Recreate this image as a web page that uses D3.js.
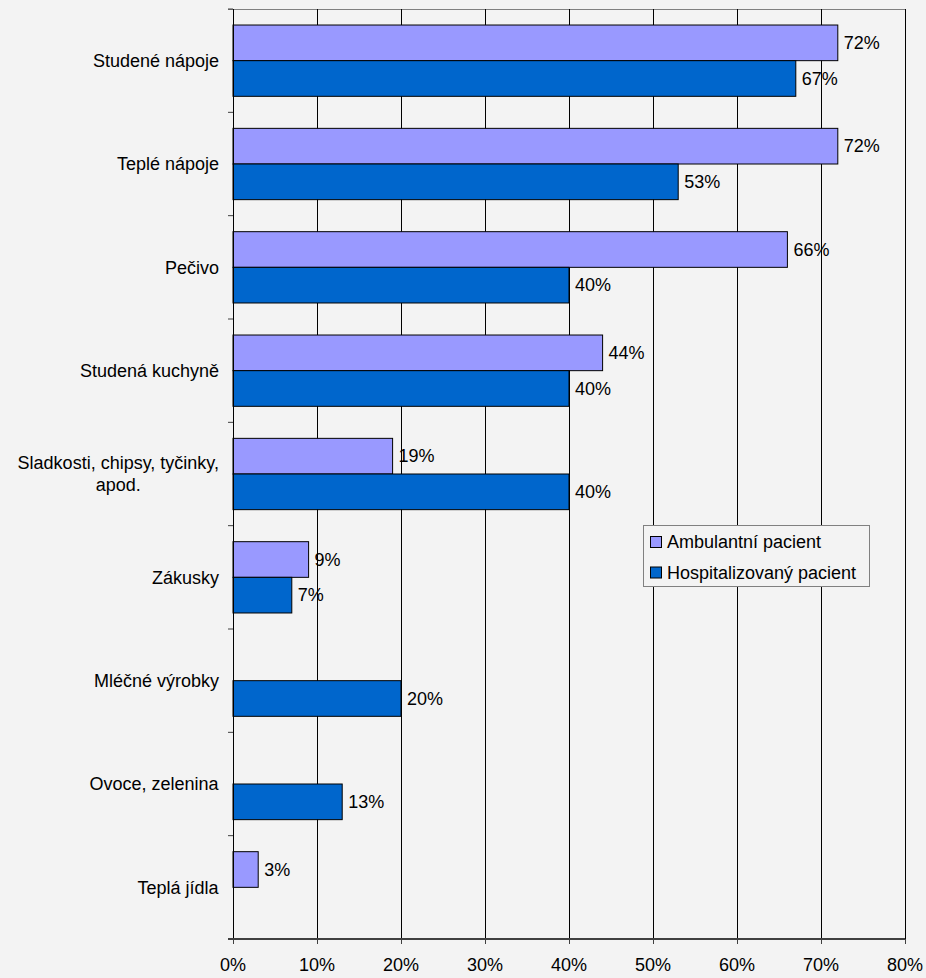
<!DOCTYPE html>
<html>
<head>
<meta charset="utf-8">
<script src="https://cdn.jsdelivr.net/npm/d3@7"></script>
<style>
  html, body { margin: 0; padding: 0; background: #f3f3f3; }
  svg { display: block; font-family: Arial, "Liberation Sans", sans-serif; }
</style>
</head>
<body>
<svg id="chart" width="926" height="978"></svg>
<script>
// Food categories, top to bottom
const categories = [
  ["Studené nápoje"],
  ["Teplé nápoje"],
  ["Pečivo"],
  ["Studená kuchyně"],
  ["Sladkosti, chipsy, tyčinky,", "apod."],
  ["Zákusky"],
  ["Mléčné výrobky"],
  ["Ovoce, zelenina"],
  ["Teplá jídla"]
];
// Share of respondents (%), null = no bar
const ambulantni = [72, 72, 66, 44, 19, 9, null, null, 3];
const hospitalizovany = [67, 53, 40, 40, 40, 7, 20, 13, null];
const seriesNames = ["Ambulantní pacient", "Hospitalizovaný pacient"];
const seriesColors = ["#9999ff", "#0066cc"];
const xTicks = [0, 10, 20, 30, 40, 50, 60, 70, 80];

const svg = d3.select("#chart");
const plotLeft = 233, plotRight = 905, plotTop = 9, plotBottom = 939;

const x = d3.scaleLinear().domain([0, 80]).range([plotLeft, plotRight]);
const y = d3.scaleBand().domain(d3.range(categories.length)).range([plotTop, plotBottom])
  .paddingInner(0.31).paddingOuter(0.155);
const inner = d3.scaleBand().domain([0, 1]).range([0, y.bandwidth()]);
const step = y.step();

// plot frame (top and right edges)
svg.append("line").attr("x1", plotLeft - 5).attr("x2", plotRight).attr("y1", plotTop + 0.5).attr("y2", plotTop + 0.5)
  .attr("stroke", "#808080").attr("stroke-width", 1);
svg.append("line").attr("x1", plotRight + 0.5).attr("x2", plotRight + 0.5).attr("y1", plotTop).attr("y2", plotBottom)
  .attr("stroke", "#808080").attr("stroke-width", 1);

// vertical gridlines
svg.append("g").selectAll("line").data(xTicks.slice(1)).join("line")
  .attr("x1", d => Math.round(x(d)) + 0.5).attr("x2", d => Math.round(x(d)) + 0.5)
  .attr("y1", plotTop).attr("y2", plotBottom)
  .attr("stroke", "#000").attr("stroke-width", 1);

// bars and value labels
const series = [ambulantni, hospitalizovany];
series.forEach((vals, si) => {
  const g = svg.append("g");
  const data = vals.map((v, i) => ({ v, i })).filter(d => d.v != null);
  g.selectAll("rect").data(data).join("rect")
    .attr("x", x(0))
    .attr("y", d => y(d.i) + inner(si))
    .attr("width", d => x(d.v) - x(0))
    .attr("height", inner.bandwidth())
    .attr("fill", seriesColors[si])
    .attr("stroke", "#000").attr("stroke-width", 1);
  g.selectAll("text").data(data).join("text")
    .attr("x", d => x(d.v) + 6)
    .attr("y", d => y(d.i) + inner(si) + inner.bandwidth() / 2)
    .attr("dy", "0.35em")
    .attr("font-size", 18).attr("fill", "#000")
    .text(d => d.v + "%");
});

// category axis
svg.append("line").attr("x1", plotLeft + 0.5).attr("x2", plotLeft + 0.5).attr("y1", plotTop).attr("y2", plotBottom)
  .attr("stroke", "#000");
svg.append("g").selectAll("line").data(d3.range(categories.length + 1)).join("line")
  .attr("x1", plotLeft - 5).attr("x2", plotLeft)
  .attr("y1", d => plotTop + d * step).attr("y2", d => plotTop + d * step)
  .attr("stroke", "#404040");
const catLabels = svg.append("g").selectAll("text").data(categories).join("text")
  .attr("font-size", 18).attr("fill", "#000")
  .attr("text-anchor", "middle");
catLabels.each(function(lines, i) {
  const t = d3.select(this);
  const cy = y(i) + y.bandwidth() / 2;
  const lh = 22;
  const y0 = cy - (lines.length - 1) * lh / 2;
  lines.forEach((l, k) => {
    t.append("tspan").attr("x", 0).attr("y", y0 + k * lh).attr("dy", "0.35em").text(l);
  });
});
// right-align each label block, centring wrapped lines within it
catLabels.each(function() {
  const t = d3.select(this);
  const w = this.getBBox().width;
  t.selectAll("tspan").attr("x", 219 - w / 2);
});

// value axis
svg.append("line").attr("x1", plotLeft - 5).attr("x2", plotRight).attr("y1", plotBottom).attr("y2", plotBottom)
  .attr("stroke", "#404040").attr("stroke-width", 2);
svg.append("g").selectAll("line").data(xTicks).join("line")
  .attr("x1", d => Math.round(x(d)) + 0.5).attr("x2", d => Math.round(x(d)) + 0.5)
  .attr("y1", plotBottom).attr("y2", plotBottom + 5)
  .attr("stroke", "#404040");
svg.append("g").selectAll("text").data(xTicks).join("text")
  .attr("x", d => x(d)).attr("y", 965).attr("dy", "0.35em")
  .attr("text-anchor", "middle").attr("font-size", 18).attr("fill", "#000")
  .text(d => d + "%");

// legend
const lg = svg.append("g");
lg.append("rect").attr("x", 643.5).attr("y", 525.5).attr("width", 226).attr("height", 61)
  .attr("fill", "#f3f3f3").attr("stroke", "#808080");
seriesNames.forEach((n, i) => {
  const cy = 542 + i * 30.5;
  lg.append("rect").attr("x", 650.5).attr("y", cy - 5.5).attr("width", 11).attr("height", 11)
    .attr("fill", seriesColors[i]).attr("stroke", "#000");
  lg.append("text").attr("x", 667).attr("y", cy).attr("dy", "0.35em")
    .attr("font-size", 18).attr("fill", "#000").text(n);
});
</script>
</body>
</html>
